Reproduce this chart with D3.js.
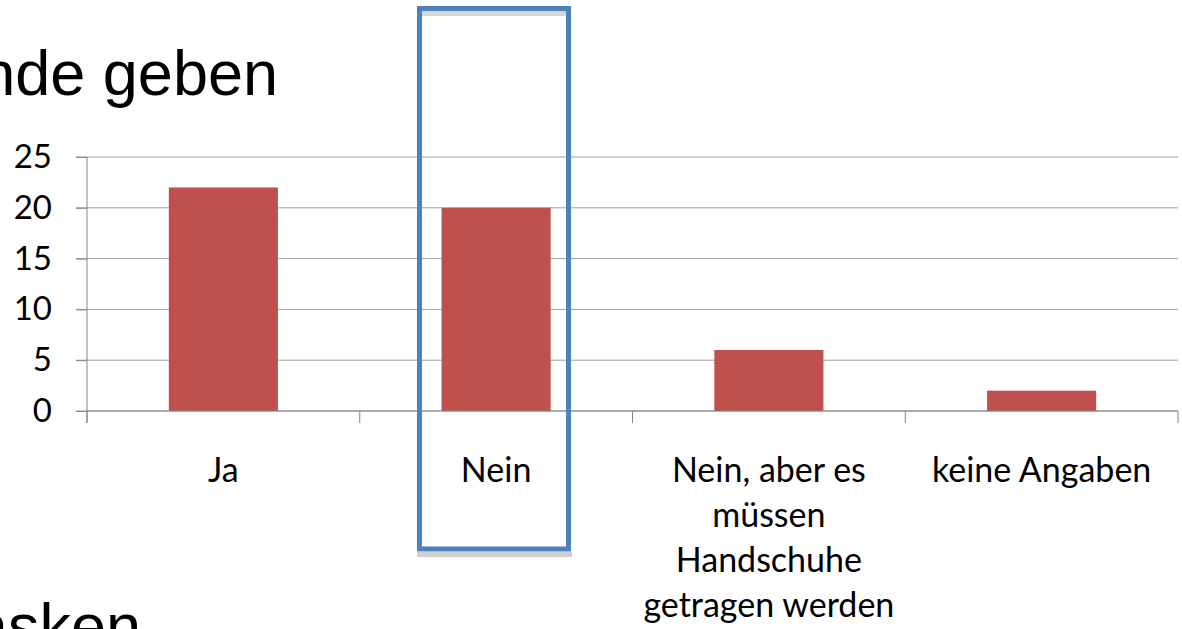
<!DOCTYPE html>
<html>
<head>
<meta charset="utf-8">
<script src="https://cdn.jsdelivr.net/npm/d3@7"></script>
<style>
  body { margin: 0; background: #fff; }
  svg { display: block; }
</style>
</head>
<body>
<svg width="1182" height="629"></svg>
<script>
// chart data
var categories = ["Ja", "Nein", "Nein, aber es müssen Handschuhe getragen werden", "keine Angaben"];
var values = [22, 20, 6, 2];
var yTicks = [0, 5, 10, 15, 20, 25];

var svg = d3.select("svg"),
    width = +svg.attr("width"),
    height = +svg.attr("height");

// plot area (note: "top" is taken by window.top, so use mTop)
var mLeft = 87, mRight = 1178, mTop = 157, mBottom = 411;
var labelFont = "Lato, 'Open Sans', sans-serif";
var slideFont = "'Liberation Sans', Arial, sans-serif";

// slide text, cut off at the edges
svg.append("text")
    .attr("x", 278)
    .attr("y", 95)
    .attr("text-anchor", "end")
    .style("font-family", slideFont)
    .style("font-size", "63px")
    .style("fill", "#000")
    .text("nde geben");

svg.append("text")
    .attr("x", -27)
    .attr("y", 648)
    .style("font-family", slideFont)
    .style("font-size", "63px")
    .style("fill", "#000")
    .text("asken");

var x = d3.scaleBand()
    .domain(categories)
    .range([mLeft, mRight])
    .paddingInner(0.6)
    .paddingOuter(0.3);

var y = d3.scaleLinear()
    .domain([0, 25])
    .range([mBottom, mTop]);

// gridlines
svg.append("g")
    .selectAll("line")
    .data(yTicks)
    .enter().append("line")
    .attr("x1", mLeft - 11)
    .attr("x2", mRight)
    .attr("y1", function(d) { return y(d); })
    .attr("y2", function(d) { return y(d); })
    .style("stroke", "#a0a0a0")
    .style("stroke-width", 1);

// y axis
var yAxis = svg.append("g")
    .attr("transform", "translate(" + mLeft + ",0)")
    .call(d3.axisLeft(y).tickValues(yTicks).tickSize(11).tickPadding(24));
yAxis.select(".domain").attr("d", "M0," + (mBottom + 12) + "V" + mTop).style("stroke", "#868686");
yAxis.selectAll(".tick line").style("stroke", "#868686");
yAxis.selectAll("text")
    .style("font-family", labelFont)
    .style("font-size", "33px")
    .style("fill", "#000");

// bars
svg.append("g")
    .selectAll("rect")
    .data(values)
    .enter().append("rect")
    .attr("x", function(d, i) { return x(categories[i]); })
    .attr("y", function(d) { return y(d); })
    .attr("width", x.bandwidth())
    .attr("height", function(d) { return y(0) - y(d); })
    .style("fill", "#c0504d");

// x axis with category separators
var catStep = (mRight - mLeft) / categories.length;
var bounds = d3.range(categories.length + 1).map(function(i) { return mLeft + i * catStep; });

svg.append("line")
    .attr("x1", mLeft).attr("x2", mRight)
    .attr("y1", mBottom).attr("y2", mBottom)
    .style("stroke", "#868686");

svg.append("g")
    .selectAll("line")
    .data(bounds)
    .enter().append("line")
    .attr("x1", function(d) { return d; })
    .attr("x2", function(d) { return d; })
    .attr("y1", mBottom)
    .attr("y2", mBottom + 12)
    .style("stroke", "#868686");

// category labels, wrapped like excel does
var catW = catStep - 4;
var labels = svg.append("g")
    .selectAll("text")
    .data(categories)
    .enter().append("text")
    .attr("x", function(d) { return x(d) + x.bandwidth() / 2; })
    .attr("y", 482)
    .attr("text-anchor", "middle")
    .style("font-family", labelFont)
    .style("font-size", "34px")
    .style("fill", "#000");

labels.each(function(d) {
    var t = d3.select(this),
        words = d.split(" "),
        line = [],
        cx = t.attr("x");
    var tspan = t.append("tspan").attr("x", cx).attr("dy", 0);
    words.forEach(function(w) {
        line.push(w);
        tspan.text(line.join(" "));
        if (tspan.node().getComputedTextLength() > catW && line.length > 1) {
            line.pop();
            tspan.text(line.join(" "));
            line = [w];
            tspan = t.append("tspan").attr("x", cx).attr("dy", 45).text(w);
        }
    });
});

// highlight box around "Nein"
svg.append("rect")
    .attr("x", 417).attr("y", 552)
    .attr("width", 155).attr("height", 5)
    .style("fill", "#d0d0d0");
svg.append("rect")
    .attr("x", 422).attr("y", 11)
    .attr("width", 144).attr("height", 5)
    .style("fill", "#d6d6d6");
svg.append("rect")
    .attr("x", 419.5).attr("y", 8.5)
    .attr("width", 149).attr("height", 540.5)
    .style("fill", "none")
    .style("stroke", "#4f81bd")
    .style("stroke-width", 5);
</script>
</body>
</html>
